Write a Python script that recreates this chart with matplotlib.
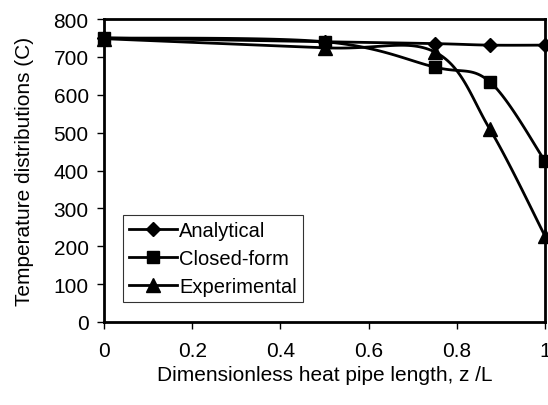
import numpy as np
import matplotlib
matplotlib.use("Agg")
import matplotlib.pyplot as plt

x_vals = [0.0, 0.5, 0.75, 0.875, 1.0]
analytical = [750, 740, 735, 731, 731]
closed_form = [750, 740, 673, 634, 425]
experimental = [748, 724, 713, 509, 227]
labels = ["Analytical", "Closed-form", "Experimental"]
markers = ["D", "s", "^"]
xticks = [0, 0.2, 0.4, 0.6, 0.8, 1]
xtick_labels = ["0", "0.2", "0.4", "0.6", "0.8", "1"]
yticks = [0, 100, 200, 300, 400, 500, 600, 700, 800]

plt.rcParams['font.family'] = ['Liberation Sans', 'DejaVu Sans']


def smooth(xs, ys, n=30):
    # Excel-style smoothed line: Catmull-Rom based cubic Bezier segments
    xs = np.asarray(xs, float); ys = np.asarray(ys, float)
    px, py = [], []
    m = len(xs)
    for i in range(m - 1):
        p0 = np.array([xs[max(i - 1, 0)], ys[max(i - 1, 0)]])
        p1 = np.array([xs[i], ys[i]])
        p2 = np.array([xs[i + 1], ys[i + 1]])
        p3 = np.array([xs[min(i + 2, m - 1)], ys[min(i + 2, m - 1)]])
        c1 = p1 + (p2 - p0) / 6.0
        c2 = p2 - (p3 - p1) / 6.0
        t = np.linspace(0, 1, n)[:, None]
        pts = ((1 - t) ** 3) * p1 + 3 * ((1 - t) ** 2) * t * c1 + 3 * (1 - t) * t ** 2 * c2 + t ** 3 * p2
        px.extend(pts[:, 0]); py.extend(pts[:, 1])
    return np.array(px), np.array(py)


fig = plt.figure(figsize=(5.48, 4.06), dpi=100)
ax = fig.add_axes([104 / 548, 1 - 323 / 406, 441 / 548, 303 / 406])

series = [analytical, closed_form, experimental]
msizes = [7, 9, 10]
for ys, lab, mk, ms in zip(series, labels, markers, msizes):
    sx, sy = smooth(x_vals, ys)
    ax.plot(sx, sy, color='black', lw=2, clip_on=False, zorder=3)
    ax.plot(x_vals, ys, linestyle='none', marker=mk, color='black', ms=ms,
            clip_on=False, zorder=4)
    ax.plot([], [], color='black', lw=2, marker=mk, ms=ms, label=lab)

ax.set_xlim(0, 1)
ax.set_ylim(0, 800)
ax.set_xticks(xticks)
ax.set_xticklabels(xtick_labels)
ax.set_yticks(yticks)
for s in ax.spines.values():
    s.set_linewidth(2)
ax.tick_params(axis='both', direction='out', length=5, width=1, labelsize=15)
ax.tick_params(axis='x', pad=9)
ax.tick_params(axis='y', pad=6)
ax.set_xlabel("Dimensionless heat pipe length, z /L", fontsize=15, labelpad=3)
ax.set_ylabel("Temperature distributions (C)", fontsize=15, labelpad=14)

leg = ax.legend(loc='lower left', bbox_to_anchor=(0.043, 0.066), fontsize=14.5,
                frameon=True, fancybox=False, edgecolor='black', handlelength=2.4,
                handletextpad=0.1, borderpad=0.3, labelspacing=0.45, borderaxespad=0)
leg.get_frame().set_linewidth(0.8)

fig.savefig("out.png", dpi=100)
